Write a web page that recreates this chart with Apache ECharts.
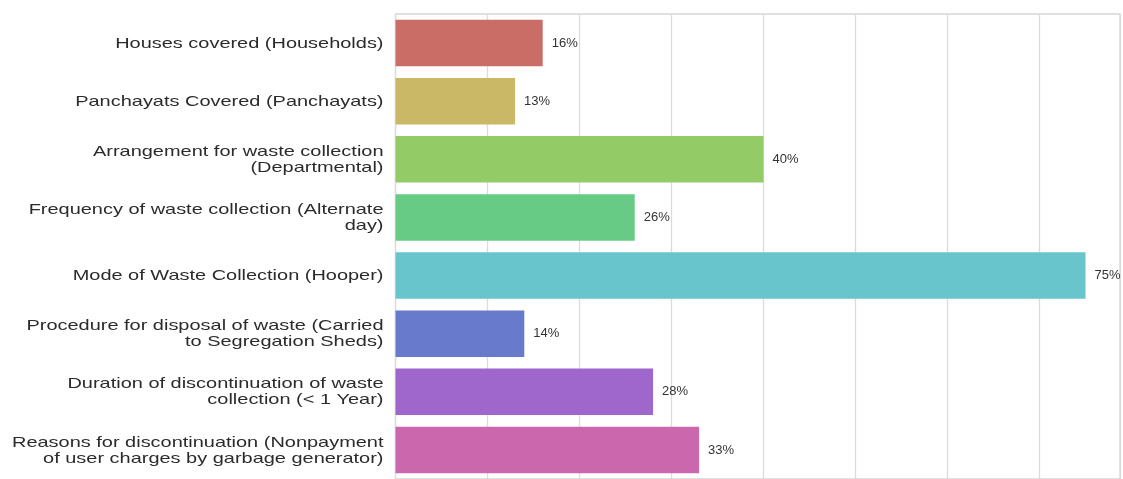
<!DOCTYPE html>
<html>
<head>
<meta charset="utf-8">
<script src="https://cdn.jsdelivr.net/npm/echarts@6/dist/echarts.min.js"></script>
<style>
  html, body { margin: 0; padding: 0; background: #fff; }
  #chart { width: 1123px; height: 479px; }
</style>
</head>
<body>
<div id="chart"></div>
<script>
const categories = [
  "Houses covered (Households)",
  "Panchayats Covered (Panchayats)",
  "Arrangement for waste collection\n(Departmental)",
  "Frequency of waste collection (Alternate\nday)",
  "Mode of Waste Collection (Hooper)",
  "Procedure for disposal of waste (Carried\nto Segregation Sheds)",
  "Duration of discontinuation of waste\ncollection (< 1 Year)",
  "Reasons for discontinuation (Nonpayment\nof user charges by garbage generator)",
]
const percentages = [16, 13, 40, 26, 75, 14, 28, 33]
const barColors = [
  "#cb6d67", "#cbb867", "#93cb67", "#67cb86",
  "#67c5cb", "#677acb", "#9f67cb", "#cb67ac",
]

const chart = echarts.init(document.getElementById("chart"))

const option = {
  animation: false,
  grid: {
    left: 395.5,
    right: 3,
    top: 14,
    height: 469,
    show: true,
    borderColor: "#d6d6d6",
    borderWidth: 1.3,
  },
  xAxis: {
    type: "value",
    min: 0,
    max: 78.75,
    interval: 10,
    axisLabel: { show: false },
    axisLine: { show: false },
    axisTick: { show: false },
    splitLine: { show: true, lineStyle: { color: "#dcdcdc", width: 1.3 } },
  },
  yAxis: {
    type: "category",
    data: categories,
    inverse: true,
    axisLine: { show: false },
    axisTick: { show: false },
    axisLabel: { show: false },
  },
  series: [
    {
      type: "bar",
      barWidth: "80%",
      data: percentages.map((v, i) => ({
        value: v,
        itemStyle: { color: barColors[i] },
      })),
      label: {
        show: true,
        position: "right",
        distance: 9,
        formatter: "{c}%",
        fontFamily: "Liberation Sans, Arial, sans-serif",
        fontSize: 13,
        color: "#333",
      },
    },
    {
      // category labels, drawn wide like the original image
      type: "custom",
      clip: false,
      silent: true,
      data: categories.map((c, i) => [0, i]),
      encode: { x: 0, y: 1 },
      renderItem: function (params, api) {
        const pt = api.coord([0, api.value(1)])
        return {
          type: "text",
          x: pt[0] - 12,
          y: pt[1] + 0.5,
          scaleX: 1.33,
          style: {
            text: categories[api.value(1)],
            font: "15px 'Liberation Sans', Arial, sans-serif",
            fill: "#2b2b2b",
            align: "right",
            verticalAlign: "middle",
            lineHeight: 16,
          },
        }
      },
    },
  ],
}

option && chart.setOption(option)
</script>
</body>
</html>
